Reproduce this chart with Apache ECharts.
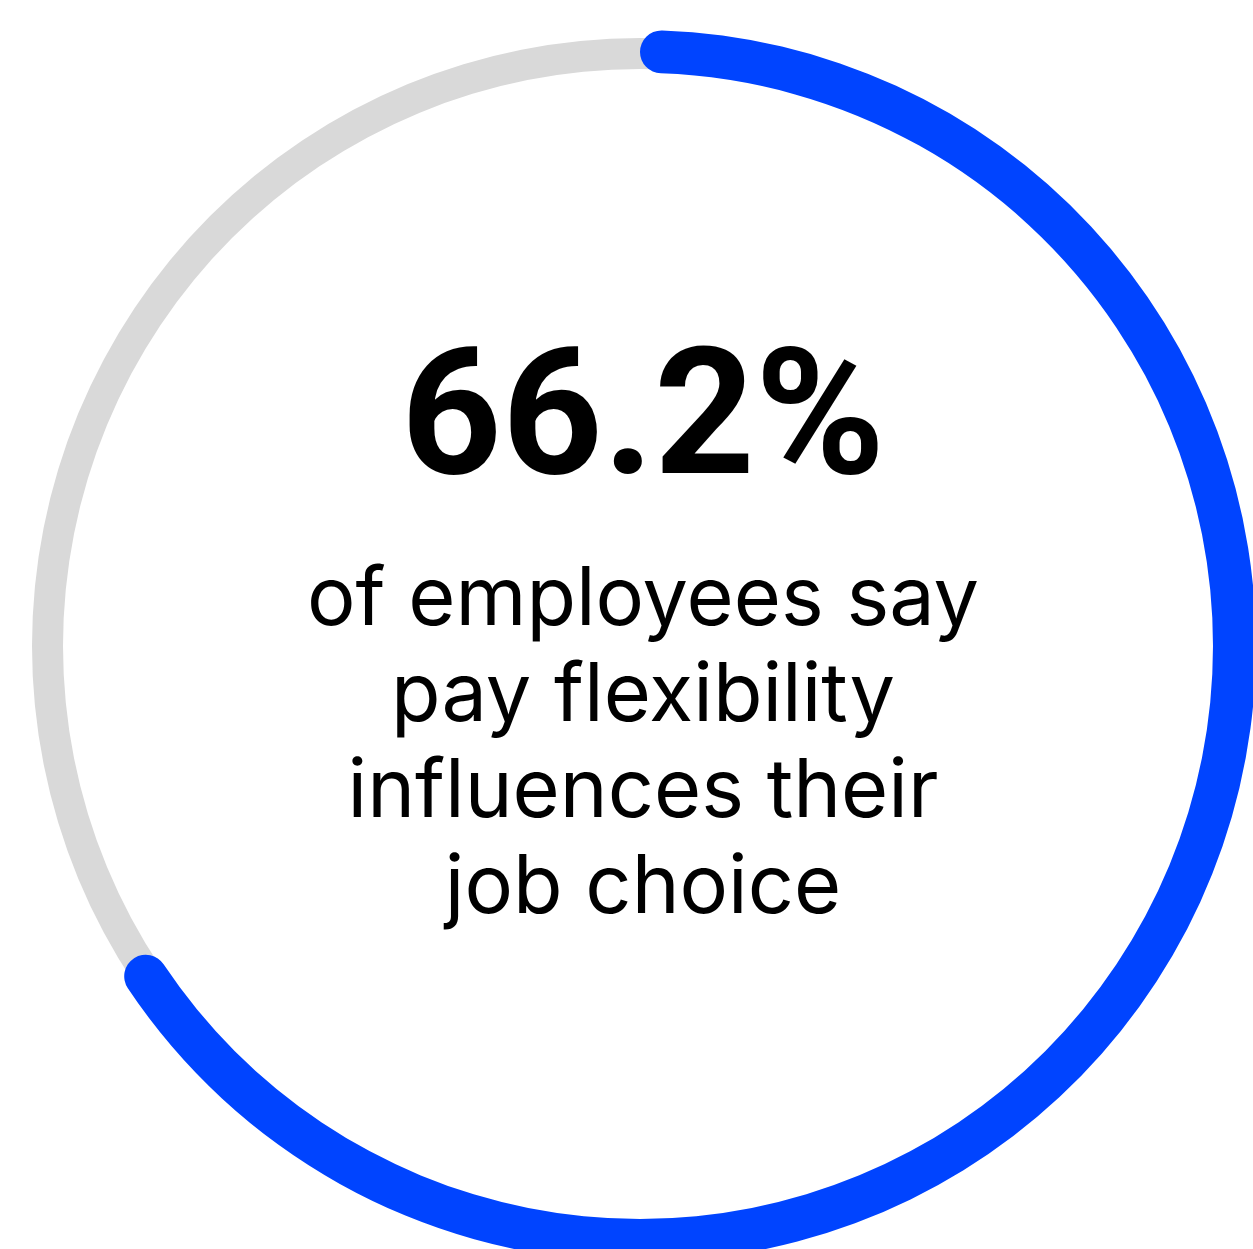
<!DOCTYPE html>
<html>
<head>
<meta charset="utf-8">
<title>Pay flexibility</title>
<script src="https://cdn.jsdelivr.net/npm/echarts@6/dist/echarts.min.js"></script>
<style>
  html, body { margin: 0; padding: 0; background: #ffffff; }
  #chart { width: 1253px; height: 1249px; }
</style>
</head>
<body>
<div id="chart"></div>
<script>
// Share of employees who say pay flexibility influences their job choice
const shareValue = 66.2;
const scaleMax = 100;
const captionLines = [
  'of employees say',
  'pay flexibility',
  'influences their',
  'job choice'
];

const blue = '#0044FF';
const track = '#D9D9D9';
const cx = 640, cy = 646;

const chart = echarts.init(document.getElementById('chart'), null, { renderer: 'canvas' });

const captionGraphics = captionLines.map((line, i) => ({
  type: 'text',
  x: 643,
  y: 601 + i * 96,
  style: {
    text: line,
    fill: '#000000',
    font: '400 81px Inter',
    align: 'center',
    verticalAlign: 'middle'
  }
}));

chart.setOption({
  animation: false,
  backgroundColor: '#ffffff',
  polar: [
    { center: [cx, cy], radius: [577, 608] },
    { center: [cx, cy], radius: [573, 616] }
  ],
  angleAxis: [
    { polarIndex: 0, type: 'value', min: 0, max: scaleMax, startAngle: 90, clockwise: true, show: false },
    { polarIndex: 1, type: 'value', min: 0, max: scaleMax, startAngle: 90, clockwise: true, show: false }
  ],
  radiusAxis: [
    { polarIndex: 0, type: 'category', data: ['track'], show: false },
    { polarIndex: 1, type: 'category', data: ['share'], show: false }
  ],
  series: [
    {
      type: 'bar',
      coordinateSystem: 'polar',
      polarIndex: 0,
      data: [scaleMax],
      barWidth: '100%',
      itemStyle: { color: track },
      silent: true
    },
    {
      type: 'bar',
      coordinateSystem: 'polar',
      polarIndex: 1,
      data: [shareValue],
      barWidth: '100%',
      // rounded ends kept inside the arc's angular span
      itemStyle: { color: blue, borderRadius: 21.5 },
      silent: true
    }
  ],
  graphic: [
    {
      type: 'text',
      x: 643,
      y: 429,
      style: {
        text: shareValue + '%',
        fill: '#000000',
        font: '700 176px Roboto',
        align: 'center',
        verticalAlign: 'middle'
      }
    }
  ].concat(captionGraphics)
});
</script>
</body>
</html>
